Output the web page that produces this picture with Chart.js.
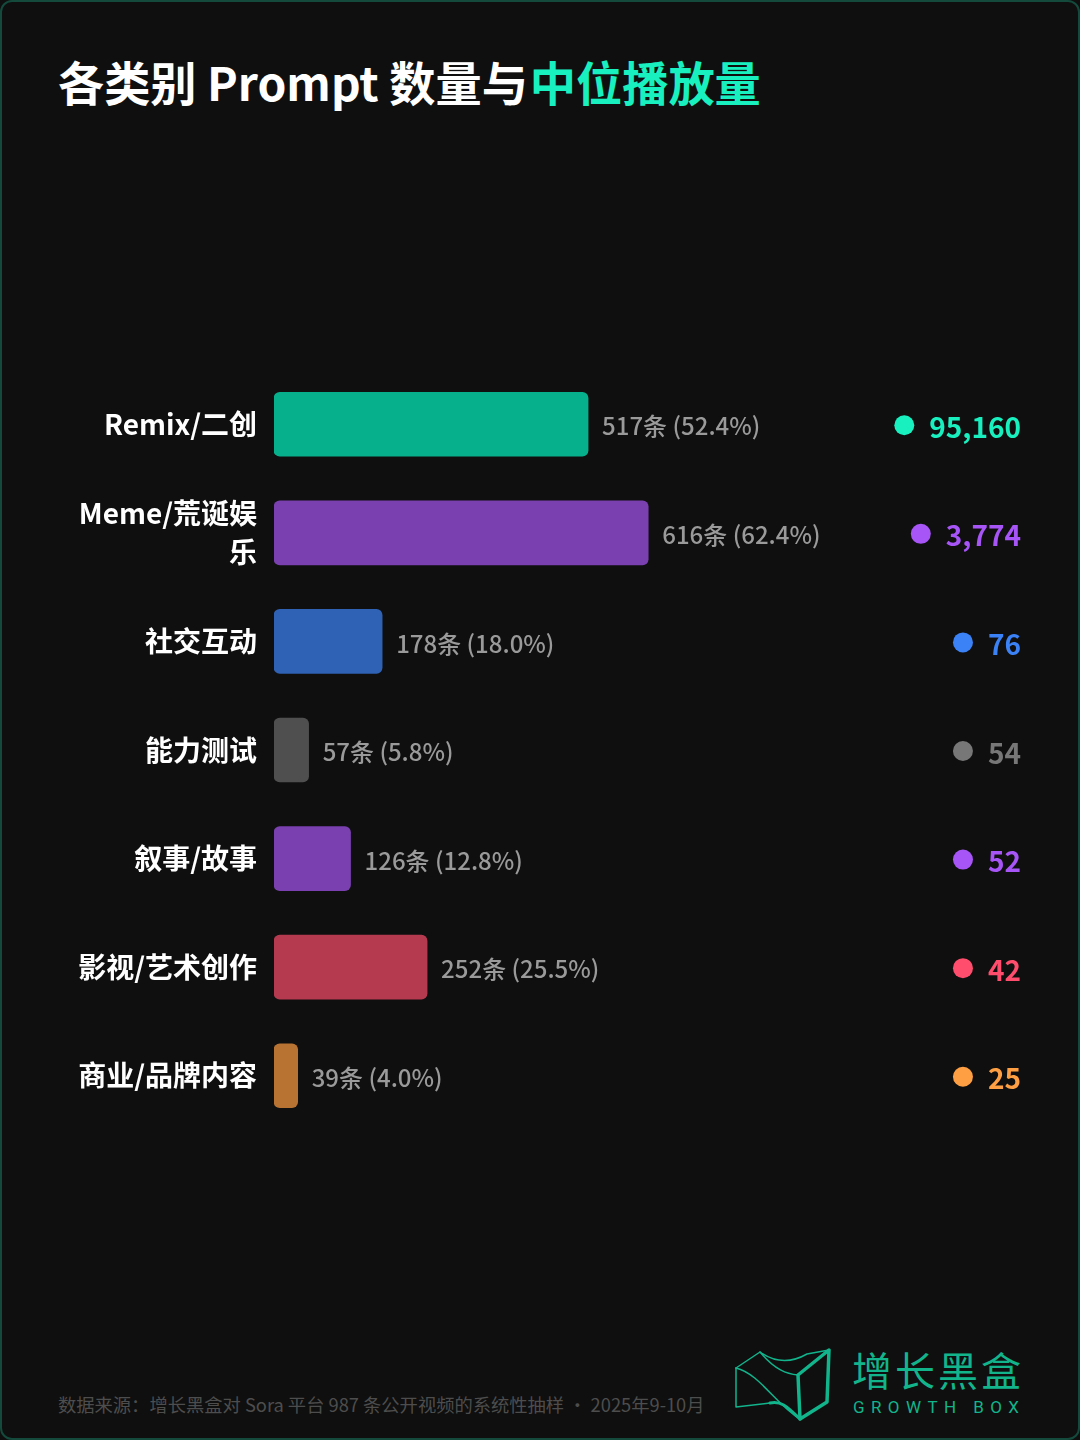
<!DOCTYPE html>
<html lang="zh-CN">
<head>
<meta charset="utf-8">
<title>各类别 Prompt 数量与中位播放量</title>
<script src="https://cdn.jsdelivr.net/npm/chart.js@4.4.1/dist/chart.umd.min.js"></script>
<style>
    html, body {
        margin: 0;
        padding: 0;
        background: #0f0f0f;
    }
    #page {
        position: relative;
        width: 1080px;
        height: 1440px;
        background: #0f0f0f;
        overflow: hidden;
        font-family: "Noto Sans CJK SC", "Noto Sans", sans-serif;
    }
    #frame {
        position: absolute;
        left: 0; top: 0;
        width: 1080px; height: 1440px;
        box-sizing: border-box;
        border: 2px solid #134a3b;
        border-radius: 12px;
        pointer-events: none;
    }
    #title {
        position: absolute;
        left: 58px;
        top: 48px;
        font-size: 46.2px;
        font-weight: 700;
        line-height: 66px;
        color: #ffffff;
        white-space: nowrap;
    }
    #title .hl { color: #19f0c0; margin-left: 2px; }
    #chart {
        position: absolute;
        left: 0;
        top: 300px;
    }
    #source {
        position: absolute;
        left: 58px;
        top: 1391px;
        font-size: 18.3px;
        line-height: 26px;
        color: #4d4d4d;
        white-space: nowrap;
    }
    #logo-icon {
        position: absolute;
        left: 735px;
        top: 1348px;
    }
    #logo-cn {
        position: absolute;
        left: 852px;
        top: 1342px;
        font-size: 40px;
        line-height: 54px;
        letter-spacing: 3px;
        color: #12b48c;
        white-space: nowrap;
    }
    #logo-en {
        position: absolute;
        left: 853px;
        top: 1396px;
        font-family: Roboto, "Noto Sans", sans-serif;
        font-size: 17px;
        line-height: 22px;
        letter-spacing: 6.4px;
        color: #12b48c;
        white-space: nowrap;
    }
</style>
</head>
<body>
<div id="page">
    <div id="title">各类别 Prompt 数量与<span class="hl">中位播放量</span></div>
    <canvas id="chart" width="1080" height="900"></canvas>
    <div id="source">数据来源：增长黑盒对 Sora 平台 987 条公开视频的系统性抽样 ・ 2025年9-10月</div>
    <svg id="logo-icon" width="96" height="74" viewBox="0 0 96 74" fill="none" stroke="#12b48c" stroke-linejoin="round" stroke-linecap="round">
        <path d="M1,20 L25,4 C42,16 58,14 72,6 L94,2" stroke-width="1.5"/>
        <path d="M1,20 L1,59 L35,55" stroke-width="1.5"/>
        <path d="M25,4 C40,22 52,26 63,27" stroke-width="1.5"/>
        <path d="M1,20 C25,26 40,56 65,71" stroke-width="1.5"/>
        <path d="M35,55 C48,52 55,62 65,71" stroke-width="3"/>
        <path d="M94,2 L92,54 L65,71 L63,27 L94,2" stroke-width="3.5"/>
    </svg>
    <div id="logo-cn">增长黑盒</div>
    <div id="logo-en">GROWTH BOX</div>
    <div id="frame"></div>
</div>
<script>
/* Data. */
const categories = ["Remix/二创", ["Meme/荒诞娱", "乐"], "社交互动", "能力测试", "叙事/故事", "影视/艺术创作", "商业/品牌内容"];
const promptCounts = [517, 616, 178, 57, 126, 252, 39];
const promptShares = [52.4, 62.4, 18.0, 5.8, 12.8, 25.5, 4.0];
const medianViews = [95160, 3774, 76, 54, 52, 42, 25];

/* Colours: bar fill and the brighter dot / number colour for each row. */
const barColors = ["#06b08c", "#7a40b0", "#2f61b4", "#4f4f4f", "#7a40b0", "#b5394f", "#b87333"];
const dotColors = ["#19f0c0", "#a855f7", "#3b82f6", "#777777", "#a855f7", "#ff4d6d", "#ff9f43"];

const CJK_FONT = '"Noto Sans CJK SC", "Noto Sans", sans-serif';

// draws the "517条 (52.4%)" labels and the median view column on the right
const rowLabels = {
    id: "rowLabels",
    afterDatasetsDraw(chart) {
        const ctx = chart.ctx;
        const bars = chart.getDatasetMeta(0).data;
        ctx.save();
        bars.forEach((bar, i) => {
            const y = bar.y;

            // count + share, just past the end of the bar
            ctx.font = `500 24px ${CJK_FONT}`;
            ctx.fillStyle = "#9a9a9a";
            ctx.textAlign = "left";
            ctx.textBaseline = "middle";
            ctx.fillText(`${promptCounts[i]}条 (${promptShares[i].toFixed(1)}%)`, bar.x + 14, y + 2);

            // median views, right aligned, with a dot in front
            const txt = medianViews[i].toLocaleString("en-US");
            ctx.font = `700 28px ${CJK_FONT}`;
            ctx.fillStyle = dotColors[i];
            ctx.textAlign = "right";
            const right = 1021;
            ctx.fillText(txt, right, y + 3);
            const w = ctx.measureText(txt).width;

            ctx.beginPath();
            ctx.arc(right - w - 25, y + 1, 10, 0, Math.PI * 2);
            ctx.fill();
        });
        ctx.restore();
    }
};

const ctx = document.getElementById("chart").getContext("2d");
const chart = new Chart(ctx, {
    type: "bar",
    data: {
        labels: categories,
        datasets: [{
            label: "Prompt 数量",
            data: promptCounts,
            backgroundColor: barColors,
            borderWidth: 0,
            borderRadius: 6,
            borderSkipped: false,
            barThickness: 64,
        }],
    },
    options: {
        indexAxis: "y",
        responsive: false,
        animation: false,
        devicePixelRatio: 1,
        layout: {
            padding: {top: 70, bottom: 70, left: 0, right: 320},
        },
        plugins: {
            legend: {display: false},
            tooltip: {enabled: false},
        },
        scales: {
            x: {
                display: false,
                min: 0,
                max: 800,
            },
            y: {
                afterFit: (scale) => { scale.width = 274; },
                grid: {display: false, drawTicks: false},
                border: {display: false},
                ticks: {
                    color: "#ffffff",
                    padding: 17,
                    font: {family: CJK_FONT, size: 28, weight: "700", lineHeight: 1.4},
                },
            },
        },
    },
    plugins: [rowLabels],
});
</script>
</body>
</html>
